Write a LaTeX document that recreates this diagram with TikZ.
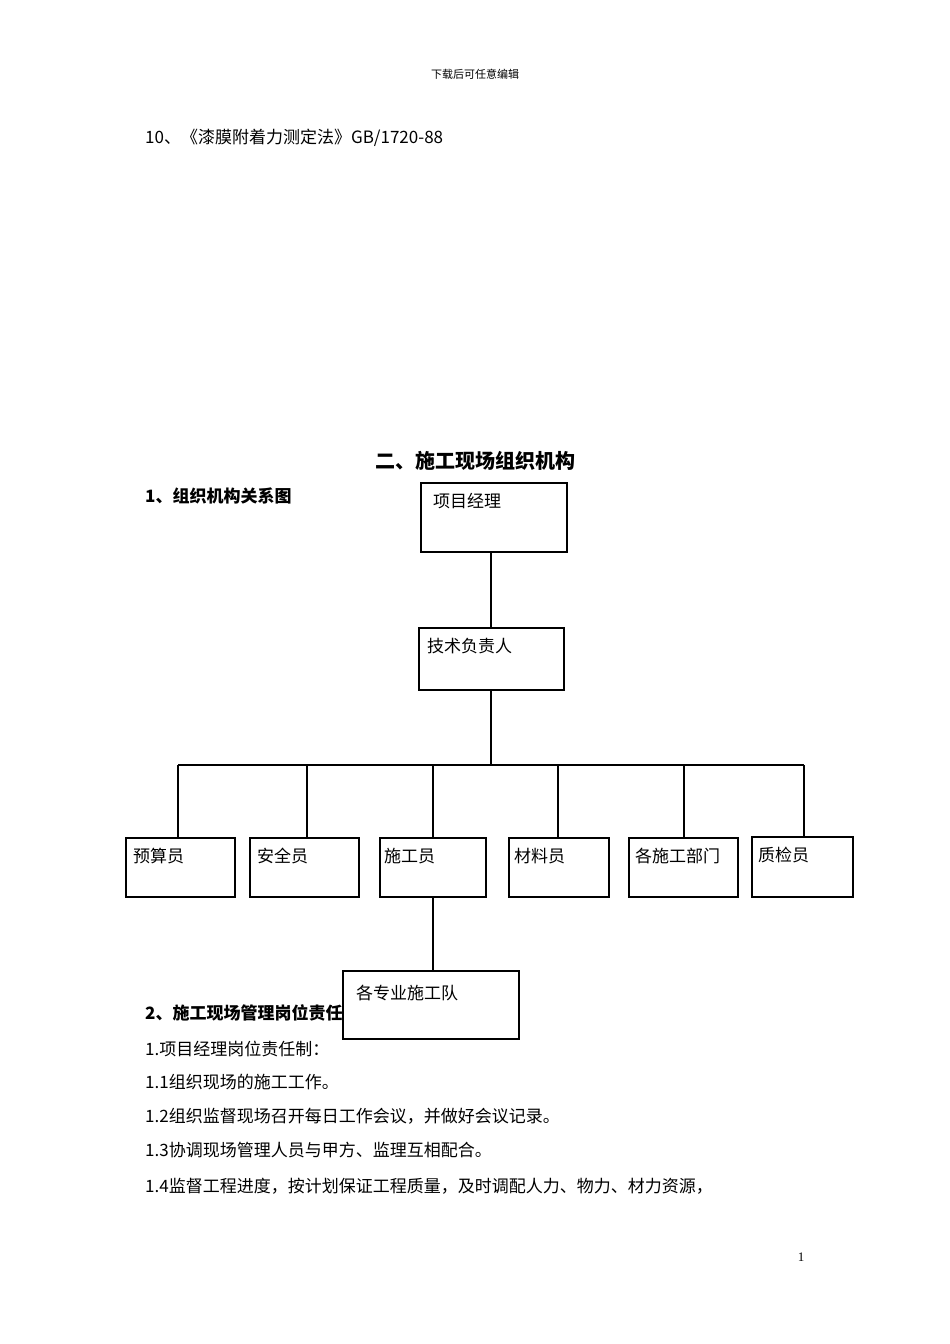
\documentclass[tikz,border=0pt]{standalone}
\usepackage{fontspec}
\setmainfont{Liberation Serif}
\newfontfamily\cjk{Noto Sans CJK SC}
\begin{document}
\begin{tikzpicture}[x=1pt,y=-1pt,
  bx/.style={draw,line width=2pt,fill=white},
  ln/.style={line width=2.2pt},
  txt/.style={anchor=west,inner sep=0pt,font=\cjk\fontsize{17}{20}\selectfont},
  bold/.style={anchor=west,inner sep=0pt,font=\cjk\bfseries\fontsize{17}{20}\selectfont}]
\useasboundingbox[fill=white] (0,0) rectangle (950,1344);
\node[inner sep=0pt,font=\cjk\fontsize{11}{13}\selectfont] (hd) at (475,74) {下载后可任意编辑};
\node[txt] (t10) at (145,138) {10、《漆膜附着力测定法》GB/1720-88};
\node[inner sep=0pt,font=\cjk\bfseries\fontsize{20}{24}\selectfont] (title) at (475,461) {二、施工现场组织机构};
\node[bold] (s1) at (145,496) {1、组织机构关系图};
\node[bold] (s2) at (145,1013) {2、施工现场管理岗位责任制};
% boxes
\draw[bx] (421,483) rectangle (567,552); \node[txt] (a) at (433,501) {项目经理};
\draw[bx] (419,628) rectangle (564,690); \node[txt] (b) at (427,646) {技术负责人};
\draw[ln] (491,552) -- (491,628);
\draw[ln] (491,690) -- (491,765);
\draw[ln] (178,765) -- (804,765);
\foreach \x/\y in {178/838,307/838,433/838,558/838,684/838,804/837} \draw[ln] (\x,765) -- (\x,\y);
\draw[bx] (126,838) rectangle (235,897); \node[txt] (c1) at (133,856) {预算员};
\draw[bx] (250,838) rectangle (359,897); \node[txt] (c2) at (257,856) {安全员};
\draw[bx] (380,838) rectangle (486,897); \node[txt] (c3) at (384,856) {施工员};
\draw[bx] (509,838) rectangle (609,897); \node[txt] (c4) at (514,856) {材料员};
\draw[bx] (629,838) rectangle (738,897); \node[txt] (c5) at (635,856) {各施工部门};
\draw[bx] (752,837) rectangle (853,897); \node[txt] (c6) at (758,855) {质检员};
\draw[ln] (433,897) -- (433,971);
\draw[bx] (343,971) rectangle (519,1039); \node[txt] (d) at (356,993) {各专业施工队};
\node[txt] (p1) at (145,1049) {1.项目经理岗位责任制：};
\node[txt] (p2) at (145,1082) {1.1组织现场的施工工作。};
\node[txt] (p3) at (145,1116) {1.2组织监督现场召开每日工作会议，并做好会议记录。};
\node[txt] (p4) at (145,1150) {1.3协调现场管理人员与甲方、监理互相配合。};
\node[txt] (p5) at (145,1186) {1.4监督工程进度，按计划保证工程质量，及时调配人力、物力、材力资源，};
\node[inner sep=0pt,font=\fontsize{13}{15}\selectfont] (pg) at (801,1257) {1};
\end{tikzpicture}
\end{document}
